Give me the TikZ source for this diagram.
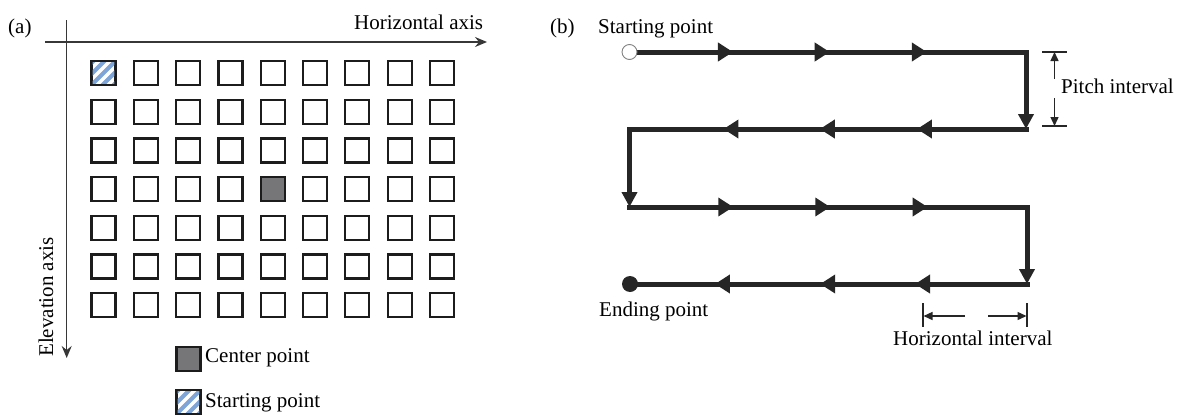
\documentclass[tikz,border=0pt]{standalone}
\usepackage{fontspec}
\setmainfont{Liberation Serif}
\usetikzlibrary{arrows.meta,decorations.markings,calc}
\definecolor{ink}{RGB}{28,28,28}
\definecolor{pathink}{RGB}{38,38,38}
\definecolor{axisink}{RGB}{55,55,55}
\definecolor{cgray}{RGB}{118,118,120}
\definecolor{hatch}{RGB}{125,165,215}
\begin{document}
\begin{tikzpicture}[x=1pt,y=-1pt,
  font=\fontsize{21}{25}\selectfont,
  cell/.style={draw=ink, line width=2.2, minimum size=24, inner sep=0, outer sep=0},
  plaincell/.style={},
  centercell/.style={fill=cgray},
  axis/.style={draw=axisink, line width=1.4, -{Stealth[length=12pt,width=10pt,inset=4pt]}},
  label/.style={inner sep=0, anchor=base west},
  rowline/.style={draw=pathink, line width=5, line cap=rect},
  downline/.style={rowline, -{Triangle[length=15pt,width=15pt]}},
  tri/.style n args={3}{postaction={decorate}, decoration={markings,
      mark=at position #1 with {\arrow{Triangle[length=15pt,width=18pt]}},
      mark=at position #2 with {\arrow{Triangle[length=15pt,width=18pt]}},
      mark=at position #3 with {\arrow{Triangle[length=15pt,width=18pt]}}}},
  dim/.style={draw=pathink, line width=1.4},
  dimarrow/.style={dim, -{Triangle[length=9pt,width=8pt]}},
  stripe/.style={draw=hatch, line width=4}]
\useasboundingbox (0,0) rectangle (1183,415);

% ---------- (a) scanning grid ----------
\node[label] (lbla) at (8,33) {(a)};
\coordinate (hx0) at (45,42);
\coordinate (hx1) at (487,42);
\coordinate (vy0) at (66.7,20);
\coordinate (vy1) at (66.7,358);
\draw[axis] (hx0) -- (hx1);
\draw[axis] (vy0) -- (vy1);
\node[label] (haxis) at (354,29) {Horizontal axis};
\node[label, rotate=90] (eaxis) at (53,357) {Elevation axis};

\foreach \i in {0,...,8}{
  \foreach \j in {0,...,6}{
    \ifnum\numexpr\i*10+\j\relax=43 \def\cellkind{centercell}\else\def\cellkind{plaincell}\fi
    \node[cell,\cellkind] (g-\i-\j) at ({103.5+42.3*\i},{73+38.7*\j}) {};
  }
}

% legend
\node[cell, fill=cgray] (legcenter) at (188.5,359) {};
\node[label] (legcentertxt) at (205,362) {Center point};
\node[cell] (legstart) at (188.5,402) {};
\node[label] (legstarttxt) at (205,407) {Starting point};

% hatched fill of the starting cells
\foreach \n in {g-0-0,legstart}{
  \begin{scope}
    \clip ($(\n)+(-10.9,-10.9)$) rectangle ($(\n)+(10.9,10.9)$);
    \foreach \k in {-22,-11,...,22}
      \draw[stripe] ($(\n)+(\k-16,16)$) -- ($(\n)+(\k+16,-16)$);
  \end{scope}
}

% ---------- (b) serpentine scan path ----------
\node[label] (lblb) at (550,33) {(b)};
\node[label] (starttxt) at (598,33) {Starting point};
\node[label] (endtxt) at (599,316) {Ending point};

\coordinate (s0) at (629.5,52);
\coordinate (c1) at (1026,52);
\coordinate (c2) at (1026,129);
\coordinate (c3) at (629.5,129);
\coordinate (c4) at (629.5,207);
\coordinate (c5) at (1027,207);
\coordinate (c6) at (1027,284);
\coordinate (e0) at (630,284);

\draw[rowline, tri={0.261}{0.505}{0.75}] (s0) -- (c1);
\draw[rowline, tri={0.275}{0.52}{0.763}] (c2) -- (c3);
\draw[rowline, tri={0.261}{0.505}{0.75}] (c4) -- (c5);
\draw[rowline, tri={0.282}{0.521}{0.786}] (c6) -- (e0);
\draw[downline] (c1) -- (c2);
\draw[downline] (c3) -- (c4);
\draw[downline] (c5) -- (c6);

\node[circle, draw=gray, fill=white, line width=0.9, minimum size=15, inner sep=0] (start) at (s0) {};
\node[circle, fill=pathink, minimum size=16, inner sep=0] (end) at (e0) {};

% pitch interval
\coordinate (pt-l) at (1042,52);
\coordinate (pt-r) at (1067,52);
\coordinate (pb-l) at (1042,126);
\coordinate (pb-r) at (1067,126);
\coordinate (pt-m) at (1054.5,52);
\coordinate (pb-m) at (1054.5,126);
\coordinate (pu-from) at (1054.5,79);
\coordinate (pd-from) at (1054.5,98);
\draw[dim] (pt-l) -- (pt-r);
\draw[dim] (pb-l) -- (pb-r);
\draw[dimarrow] (pu-from) -- (pt-m);
\draw[dimarrow] (pd-from) -- (pb-m);
\node[label] (pitchtxt) at (1061,93) {Pitch interval};

% horizontal interval
\coordinate (hl-t) at (923,303);
\coordinate (hl-b) at (923,327);
\coordinate (hr-t) at (1027,303);
\coordinate (hr-b) at (1027,327);
\coordinate (hl-m) at (923.5,316);
\coordinate (hr-m) at (1026.5,316);
\coordinate (hl-from) at (965,316);
\coordinate (hr-from) at (988,316);
\draw[dim] (hl-t) -- (hl-b);
\draw[dim] (hr-t) -- (hr-b);
\draw[dimarrow] (hl-from) -- (hl-m);
\draw[dimarrow] (hr-from) -- (hr-m);
\node[label] (hinttxt) at (893,345) {Horizontal interval};
\end{tikzpicture}
\end{document}
